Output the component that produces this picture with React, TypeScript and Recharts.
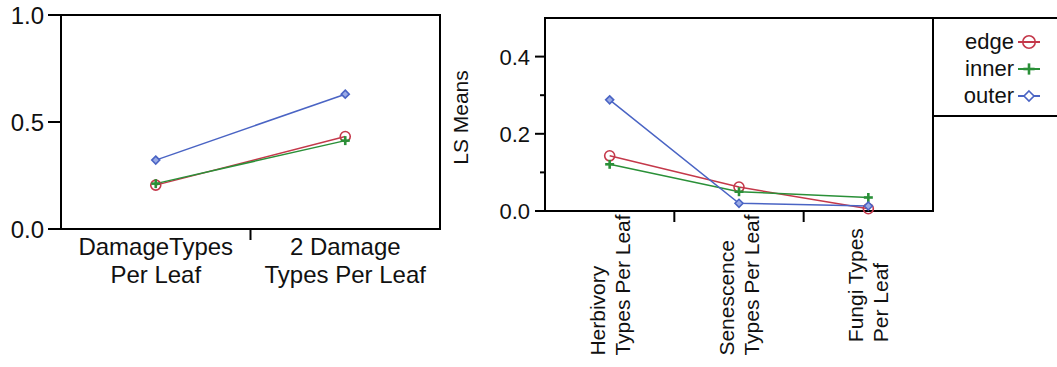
import React from "react";
import { LineChart, Line, XAxis, YAxis, Legend, ReferenceArea } from "recharts";

// ---------- data ----------
const SERIES_NAMES = ["edge", "inner", "outer"];
const SERIES_COLORS = ["#C4384A", "#2A9038", "#4A64C4"];

const LEFT_CATEGORIES = [
  ["DamageTypes", "Per Leaf"],
  ["2 Damage", "Types Per Leaf"],
];
const LEFT_EDGE = [0.205, 0.432];
const LEFT_INNER = [0.212, 0.413];
const LEFT_OUTER = [0.322, 0.63];
const LEFT_TICKS = [0, 0.5, 1.0];
const LEFT_DOMAIN = [0, 1];

const RIGHT_CATEGORIES = [
  ["Herbivory", "Types Per Leaf"],
  ["Senescence", "Types Per Leaf"],
  ["Fungi Types", "Per Leaf"],
];
const RIGHT_EDGE = [0.143, 0.062, 0.006];
const RIGHT_INNER = [0.121, 0.05, 0.035];
const RIGHT_OUTER = [0.288, 0.02, 0.013];
const RIGHT_MAJOR_TICKS = [0, 0.2, 0.4];
const RIGHT_MINOR_TICKS = [0.1, 0.3];
const RIGHT_DOMAIN = [0, 0.5];

const FONT = "Arial, 'Liberation Sans', Helvetica, sans-serif";

const buildData = (cats: string[][], e: number[], i: number[], o: number[]) =>
  cats.map((c, k) => ({ x: k + 1, edge: e[k], inner: i[k], outer: o[k] }));

const leftData = buildData(LEFT_CATEGORIES, LEFT_EDGE, LEFT_INNER, LEFT_OUTER);
const rightData = buildData(RIGHT_CATEGORIES, RIGHT_EDGE, RIGHT_INNER, RIGHT_OUTER);

const sepTicks = (n: number) => {
  const t: number[] = [];
  for (let k = 1; k <= n; k++) {
    t.push(k);
    if (k < n) t.push(k + 0.5);
  }
  return t;
};

let measureCanvas: HTMLCanvasElement | null = null;
const measure = (t: string, fs: number) => {
  try {
    if (!measureCanvas) measureCanvas = document.createElement("canvas");
    const ctx = measureCanvas.getContext("2d");
    if (ctx) {
      ctx.font = `${fs}px Arial, "Liberation Sans", sans-serif`;
      return ctx.measureText(t).width;
    }
  } catch (e) {}
  return t.length * fs * 0.5;
};

// ---------- markers ----------
const Marker = ({ kind, cx, cy, color, scale = 1 }: any) => {
  if (cx == null || cy == null) return null;
  if (kind === "edge") {
    return <circle cx={cx} cy={cy} r={5 * scale} fill="none" stroke={color} strokeWidth={1.6} />;
  }
  if (kind === "inner") {
    const a = 4.5 * scale;
    return (
      <g stroke={color} strokeWidth={2.6}>
        <line x1={cx - a} y1={cy} x2={cx + a} y2={cy} />
        <line x1={cx} y1={cy - a} x2={cx} y2={cy + a} />
      </g>
    );
  }
  const d = 4 * scale;
  return (
    <path
      d={`M${cx},${cy - d} L${cx + d},${cy} L${cx},${cy + d} L${cx - d},${cy} Z`}
      fill={scale > 1 ? "white" : "#9AAAE6"}
      stroke={color}
      strokeWidth={1.6}
    />
  );
};

const dotFor = (name: string, color: string) => (props: any) => (
  <Marker key={`${name}-${props.index}`} kind={name} cx={props.cx} cy={props.cy} color={color} />
);

// ---------- ticks ----------
const LeftXTick = (props: any) => {
  const { x, y, payload } = props;
  const v = payload.value;
  if (Math.abs(v - Math.round(v)) > 0.01) {
    return <line x1={x} y1={y} x2={x} y2={y + 11} stroke="#000" strokeWidth={2} />;
  }
  const lines = LEFT_CATEGORIES[Math.round(v) - 1] || [];
  return (
    <g>
      {lines.map((l, i) => (
        <text key={i} x={x} y={y + 26 + i * 28} textAnchor="middle" fontFamily={FONT} fontSize={24} fill="#111">
          {l}
        </text>
      ))}
    </g>
  );
};

const RightXTick = (props: any) => {
  const { x, y, payload } = props;
  const v = payload.value;
  if (Math.abs(v - Math.round(v)) > 0.01) {
    return <line x1={x} y1={y} x2={x} y2={y + 11} stroke="#000" strokeWidth={2} />;
  }
  const lines = RIGHT_CATEGORIES[Math.round(v) - 1] || [];
  const fs = 21;
  const maxW = Math.max(...lines.map((l) => measure(l, fs)));
  const bottom = y + 74 + maxW / 2;
  return (
    <g>
      {lines.map((l, i) => (
        <text
          key={i}
          x={0}
          y={0}
          transform={`translate(${x - 5 + i * 25}, ${bottom}) rotate(-90)`}
          textAnchor="start"
          fontFamily={FONT}
          fontSize={fs}
          fill="#111"
        >
          {l}
        </text>
      ))}
    </g>
  );
};

const makeYTick = (majors: number[], majorLen: number, fs: number, gap: number) => (props: any) => {
  const { x, y, payload } = props;
  const v = payload.value;
  const isMajor = majors.some((m) => Math.abs(m - v) < 1e-6);
  return (
    <g>
      <line x1={x - (isMajor ? majorLen : 5)} y1={y} x2={x} y2={y} stroke="#000" strokeWidth={2} />
      {isMajor && (
        <text x={x - majorLen - gap} y={y + fs * 0.36} textAnchor="end" fontFamily={FONT} fontSize={fs} fill="#111">
          {v.toFixed(1)}
        </text>
      )}
    </g>
  );
};

const LegendBox = () => (
  <div
    style={{
      boxSizing: "border-box",
      width: 150,
      height: 100,
      borderTop: "2px solid #000",
      borderLeft: "2px solid #000",
      borderBottom: "2px solid #000",
      borderRight: "none",
      background: "white",
      paddingTop: 9,
      fontFamily: FONT,
      fontSize: 22,
      color: "#111",
    }}
  >
    {SERIES_NAMES.map((n, i) => (
      <div key={n} style={{ display: "flex", alignItems: "center", height: 27 }}>
        <span style={{ display: "inline-block", width: 80, textAlign: "right", lineHeight: "27px" }}>{n}</span>
        <svg width={26} height={18} style={{ marginLeft: 2 }}>
          <line x1={2} y1={9} x2={24} y2={9} stroke={SERIES_COLORS[i]} strokeWidth={2} />
          <Marker kind={n} cx={13} cy={9} color={SERIES_COLORS[i]} scale={1.25} />
        </svg>
      </div>
    ))}
  </div>
);

const seriesLines = () =>
  SERIES_NAMES.map((n, i) => (
    <Line
      key={n}
      dataKey={n}
      name={n}
      type="linear"
      stroke={SERIES_COLORS[i]}
      strokeWidth={1.5}
      dot={dotFor(n, SERIES_COLORS[i])}
      activeDot={false}
      isAnimationActive={false}
    />
  ));

export default function App() {
  const leftTicksX = sepTicks(LEFT_CATEGORIES.length);
  const rightTicksX = sepTicks(RIGHT_CATEGORIES.length);
  const nL = LEFT_CATEGORIES.length;
  const nR = RIGHT_CATEGORIES.length;
  return (
    <div style={{ position: "absolute", left: 0, top: 0, width: 1057, height: 367, background: "white", overflow: "hidden" }}>
      <div style={{ position: "absolute", left: 0, top: 0 }}>
        <LineChart width={450} height={367} data={leftData} margin={{ top: 15, right: 10, bottom: 98, left: 0 }}>
          <XAxis
            dataKey="x"
            type="number"
            domain={[0.5, nL + 0.5]}
            ticks={leftTicksX}
            interval={0}
            tickLine={false}
            tickSize={0}
            tickMargin={0}
            height={40}
            axisLine={{ stroke: "#000", strokeWidth: 2 }}
            tick={<LeftXTick />}
          />
          <YAxis
            type="number"
            domain={LEFT_DOMAIN}
            ticks={LEFT_TICKS}
            interval={0}
            width={61}
            tickLine={false}
            tickSize={0}
            tickMargin={0}
            axisLine={{ stroke: "#000", strokeWidth: 2 }}
            tick={makeYTick(LEFT_TICKS, 13, 24, 4)}
          />
          <ReferenceArea
            x1={0.5}
            x2={nL + 0.5}
            y1={LEFT_DOMAIN[0]}
            y2={LEFT_DOMAIN[1]}
            fill="none"
            fillOpacity={0}
            stroke="#000"
            strokeWidth={2}
            strokeOpacity={1}
            ifOverflow="visible"
          />
          {seriesLines()}
        </LineChart>
      </div>
      <div style={{ position: "absolute", left: 440, top: 0 }}>
        <LineChart width={617} height={367} data={rightData} margin={{ top: 18, right: 124, bottom: 116, left: 0 }}>
          <XAxis
            dataKey="x"
            type="number"
            domain={[0.5, nR + 0.5]}
            ticks={rightTicksX}
            interval={0}
            tickLine={false}
            tickSize={0}
            tickMargin={0}
            height={40}
            axisLine={{ stroke: "#000", strokeWidth: 2 }}
            tick={<RightXTick />}
          />
          <YAxis
            type="number"
            domain={RIGHT_DOMAIN}
            ticks={[...RIGHT_MAJOR_TICKS, ...RIGHT_MINOR_TICKS].sort((a, b) => a - b)}
            interval={0}
            width={105}
            tickLine={false}
            tickSize={0}
            tickMargin={0}
            axisLine={{ stroke: "#000", strokeWidth: 2 }}
            tick={makeYTick(RIGHT_MAJOR_TICKS, 10, 22, 5)}
            label={{
              content: (p: any) => {
                const vb = p.viewBox || {};
                const cx = (vb.x || 0) + 28;
                const cy = (vb.y || 0) + (vb.height || 0) / 2 + 3;
                return (
                  <text
                    x={cx}
                    y={cy}
                    transform={`rotate(-90, ${cx}, ${cy})`}
                    textAnchor="middle"
                    fontFamily={FONT}
                    fontSize={21}
                    fill="#111"
                  >
                    LS Means
                  </text>
                );
              },
            }}
          />
          <ReferenceArea
            x1={0.5}
            x2={nR + 0.5}
            y1={RIGHT_DOMAIN[0]}
            y2={RIGHT_DOMAIN[1]}
            fill="none"
            fillOpacity={0}
            stroke="#000"
            strokeWidth={2}
            strokeOpacity={1}
            ifOverflow="visible"
          />
          {seriesLines()}
          <Legend
            layout="vertical"
            align="center"
            verticalAlign="middle"
            content={() => <LegendBox />}
            wrapperStyle={{ left: 492, top: 17, width: 150, height: 100, margin: 0, padding: 0 }}
          />
        </LineChart>
      </div>
    </div>
  );
}
